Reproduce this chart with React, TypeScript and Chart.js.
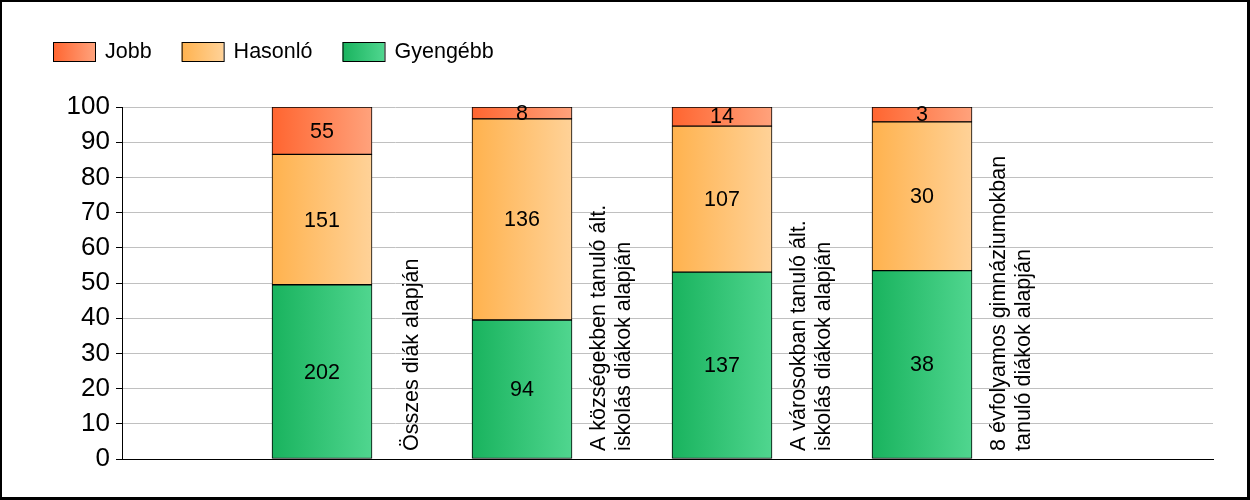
import { useEffect, useRef } from 'react';
import { Chart, registerables } from 'chart.js';

Chart.register(...registerables);

const FONT = "Arial, 'Liberation Sans', sans-serif";

// ---- data ----
const categories: string[][] = [
  ['Összes diák alapján'],
  ['A községekben tanuló ált.', 'iskolás diákok alapján'],
  ['A városokban tanuló ált.', 'iskolás diákok alapján'],
  ['8 évfolyamos gimnáziumokban', 'tanuló diákok alapján'],
];
const seriesNames = ['Gyengébb', 'Hasonló', 'Jobb'];
const gyengebb = [202, 94, 137, 38];
const hasonlo = [151, 136, 107, 30];
const jobb = [55, 8, 14, 3];
const legendOrder = ['Jobb', 'Hasonló', 'Gyengébb'];
const yMin = 0;
const yMax = 100;
const yStep = 10;

// ---- styles ----
const gradientColors: Record<string, [string, string]> = {
  Jobb: ['#ff6530', '#ffa27c'],
  'Hasonló': ['#ffb24e', '#ffd298'],
  'Gyengébb': ['#19b35e', '#50d68f'],
};

const counts = [gyengebb, hasonlo, jobb];
const totals = categories.map((_, i) => counts.reduce((s, arr) => s + arr[i], 0));

export default function App() {
  const ref = useRef<HTMLCanvasElement | null>(null);

  useEffect(() => {
    const canvas = ref.current;
    if (!canvas) return;

    const BAR_W = 100;

    const makeGrad = (ctx2d: CanvasRenderingContext2D, x0: number, x1: number, name: string) => {
      const g = ctx2d.createLinearGradient(x0, 0, x1, 0);
      g.addColorStop(0, gradientColors[name][0]);
      g.addColorStop(1, gradientColors[name][1]);
      return g;
    };

    const bgPlugin = {
      id: 'bg',
      beforeDraw(chart: any) {
        const c = chart.ctx;
        c.save();
        c.fillStyle = '#ffffff';
        c.fillRect(0, 0, chart.width, chart.height);
        c.restore();
      },
      afterDraw(chart: any) {
        const c = chart.ctx;
        c.save();
        c.fillStyle = '#000000';
        c.fillRect(0, 0, 2, chart.height);
        c.fillRect(0, 0, chart.width, 2);
        c.fillRect(chart.width - 3, 0, 3, chart.height);
        c.fillRect(0, chart.height - 3, chart.width, 3);
        c.restore();
      },
    };

    const legendPlugin = {
      id: 'customLegend',
      afterDraw(chart: any) {
        const c = chart.ctx as CanvasRenderingContext2D;
        c.save();
        c.font = `21.5px ${FONT}`;
        c.textBaseline = 'middle';
        c.textAlign = 'left';
        let x = 53;
        const y = 42;
        const bw = 42;
        const bh = 19;
        legendOrder.forEach((name) => {
          c.fillStyle = makeGrad(c, x, x + bw, name);
          c.fillRect(x, y, bw, bh);
          c.strokeStyle = '#000';
          c.lineWidth = 1;
          c.strokeRect(x + 0.5, y + 0.5, bw, bh);
          c.fillStyle = '#000';
          c.fillText(name, x + 52, y + bh / 2 + 1);
          x = x + 52 + c.measureText(name).width + 30;
        });
        c.restore();
      },
    };

    const labelsPlugin = {
      id: 'valueLabels',
      afterDatasetsDraw(chart: any) {
        const c = chart.ctx as CanvasRenderingContext2D;
        c.save();
        c.font = `21.5px ${FONT}`;
        c.fillStyle = '#000';
        c.textAlign = 'center';
        c.textBaseline = 'middle';
        chart.data.datasets.forEach((ds: any, di: number) => {
          const meta = chart.getDatasetMeta(di);
          meta.data.forEach((el: any, i: number) => {
            const v = ds.counts[i];
            c.fillText(String(v), el.x, (el.y + el.base) / 2 + 1);
          });
        });
        // category labels, rotated
        const xs = chart.scales.x;
        const bottom = chart.chartArea.bottom;
        c.textAlign = 'left';
        c.textBaseline = 'middle';
        categories.forEach((lines, i) => {
          const cx = xs.getPixelForValue(i + 1) + 90;
          lines.forEach((line, j) => {
            const lx = cx + (j - (lines.length - 1) / 2) * 25;
            c.save();
            c.translate(lx, bottom - 8);
            c.rotate(-Math.PI / 2);
            c.fillText(line, 0, 0);
            c.restore();
          });
        });
        c.restore();
      },
    };

    const srcs = [gyengebb, hasonlo, jobb];
    const datasets = seriesNames.map((name, si) => ({
      label: name,
      counts: srcs[si],
      data: srcs[si].map((v, i) => ({ x: i + 1, y: (v / totals[i]) * 100 })),
      backgroundColor: (ctx: any) => {
        const chart = ctx.chart;
        const xs = chart.scales?.x;
        if (!xs || !ctx.parsed) return gradientColors[name][0];
        const cx = xs.getPixelForValue(ctx.parsed.x);
        if (!Number.isFinite(cx)) return gradientColors[name][0];
        return makeGrad(chart.ctx, cx - BAR_W / 2, cx + BAR_W / 2, name);
      },
      borderColor: '#000000',
      borderWidth: 1,
      borderSkipped: false,
      barThickness: BAR_W,
    }));

    const chart = new Chart(canvas, {
      type: 'bar',
      data: { datasets } as any,
      options: {
        responsive: false,
        animation: false,
        events: [],
        layout: { padding: { top: 107, bottom: 41, left: 0, right: 37 } },
        plugins: {
          legend: { display: false },
          tooltip: { enabled: false },
          title: { display: false },
        },
        scales: {
          x: {
            type: 'linear',
            stacked: true,
            offset: false,
            min: 0,
            max: (1213 - 122) / 200,
            ticks: { display: false },
            grid: { display: false, drawTicks: false, offset: false },
            border: { display: true, color: '#000000', width: 1 },
          },
          y: {
            stacked: true,
            min: yMin,
            max: yMax,
            ticks: {
              stepSize: yStep,
              color: '#000000',
              padding: 6,
              font: { family: FONT, size: 26 },
            },
            grid: {
              color: '#c0c0c0',
              tickColor: '#000000',
              tickLength: 6,
              lineWidth: 1,
            },
            border: { display: true, color: '#000000', width: 1 },
            afterFit(scale: any) {
              scale.width = 122;
            },
          },
        },
      } as any,
      plugins: [bgPlugin, legendPlugin, labelsPlugin],
    });

    chart.update();

    return () => chart.destroy();
  }, []);

  return (
    <div style={{ position: 'fixed', left: 0, top: 0, width: 1250, height: 500 }}>
      <canvas ref={ref} width={1250} height={500} style={{ display: 'block' }} />
    </div>
  );
}
